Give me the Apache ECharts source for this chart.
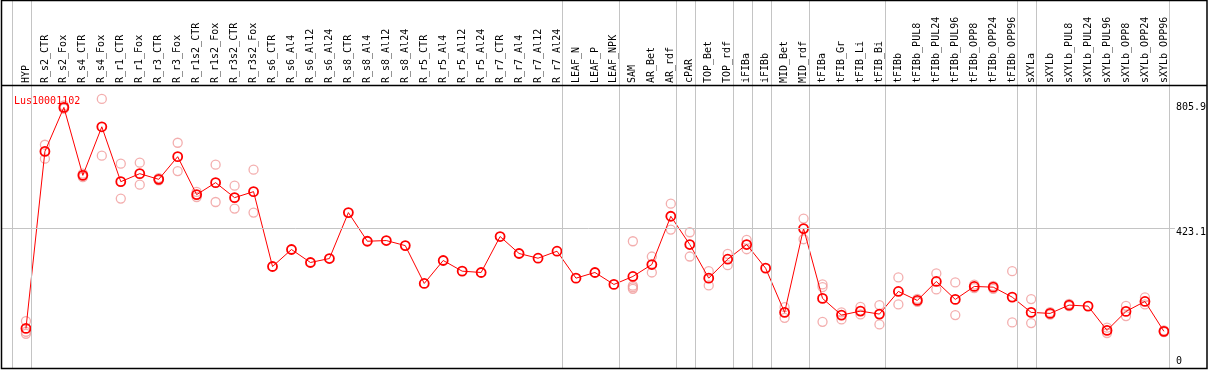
<!DOCTYPE html>
<html>
<head>
<meta charset="utf-8">
<script src="https://cdn.jsdelivr.net/npm/echarts@6/dist/echarts.min.js"></script>
<style>
html,body{margin:0;padding:0;background:#fff;}
#chart{width:1209px;height:370px;}
</style>
</head>
<body>
<div id="chart"></div>
<script>
const categories = ["HYP","R_s2_CTR","R_s2_Fox","R_s4_CTR","R_s4_Fox","R_r1_CTR","R_r1_Fox","R_r3_CTR","R_r3_Fox","R_r1s2_CTR","R_r1s2_Fox","R_r3s2_CTR","R_r3s2_Fox","R_s6_CTR","R_s6_Al4","R_s6_Al12","R_s6_Al24","R_s8_CTR","R_s8_Al4","R_s8_Al12","R_s8_Al24","R_r5_CTR","R_r5_Al4","R_r5_Al12","R_r5_Al24","R_r7_CTR","R_r7_Al4","R_r7_Al12","R_r7_Al24","LEAF_N","LEAF_P","LEAF_NPK","SAM","AR_Bet","AR_rdf","cPAR","TOP_Bet","TOP_rdf","iFIBa","iFIBb","MID_Bet","MID_rdf","tFIBa","tFIB_Gr","tFIB_Li","tFIB_Bi","tFIBb","tFIBb_PUL8","tFIBb_PUL24","tFIBb_PUL96","tFIBb_OPP8","tFIBb_OPP24","tFIBb_OPP96","sXYLa","sXYLb","sXYLb_PUL8","sXYLb_PUL24","sXYLb_PUL96","sXYLb_OPP8","sXYLb_OPP24","sXYLb_OPP96"];
const means = [105.6,666.6,805.9,590.6,744.6,570.6,596,578,649.8,529.6,567.5,520,539,301.7,355.6,314.5,327,472.6,381.8,384,368,248,320.8,287,282.8,396.7,343,328,350.2,264.8,282.8,244.9,270.2,308,461,371.4,264.8,324.9,371.4,296.4,156.3,422,200.6,147.7,160.4,150.9,222.7,194.2,254.3,197.4,238.5,236.3,204.7,156.3,153.1,179.4,176.2,99.3,159.4,191,96.2];
const replicates = [[128.7,94.9,88.6],[687.7,643.5],[812,803,802],[596,585],[833,653],[627.6,516.9],[630.8,561.2],[582,575],[694,604.3],[538,522],[624.5,506.2],[558,485.3],[608.6,472.6],[],[],[],[],[],[],[],[],[],[],[],[],[],[],[],[],[],[],[],[381.8,241,236,231],[333.4,282.8],[501,418.8],[410.3,333.4],[287,241.7],[341.7,305.9],[386,356.5],[],[173,139.2],[453.6,388.2],[245,236.6,126.5],[156.3,134.1],[174,150],[179.4,118.3],[267,181.6],[199,190],[279.7,229],[251.2,147.7],[244,233],[240,231],[287,124.6],[198.4,122.4],[157,149],[183,176],[],[108,91],[177.2,144.6],[203.7,181.6],[99,94]];
const groupEnds = [-1,0,28,31,34,35,37,38,39,41,45,52,53,60];
const yTickLabels = [0, 423.1, 805.9];
const midLine = 423.1;
const geneName = "Lus10001102";

const MONO = "'DejaVu Sans Mono','Liberation Mono',monospace";
const meanData = means.map((v,i)=>[i,v]);
const repData = [];
replicates.forEach((arr,i)=>arr.forEach(v=>repData.push([i,v])));
const sepLines = groupEnds.map(g=>({xAxis: g + 5.5/19}));

const chart = echarts.init(document.getElementById('chart'), null, {renderer:'canvas'});
chart.setOption({
  animation:false,
  backgroundColor:'#fff',
  title:{text:geneName,left:9,top:91,textStyle:{color:'#ff0000',fontSize:10,fontFamily:MONO,fontWeight:'normal'}},
  grid:{left:2,right:32,top:0,bottom:1,containLabel:false},
  xAxis:{
    type:'value',position:'top',offset:-85,
    min:-24/19,max:1151/19,
    axisLine:{show:false},axisTick:{show:false},splitLine:{show:false},
    axisLabel:{
      customValues:categories.map((c,i)=>i),
      rotate:90,margin:2,fontSize:10,fontFamily:MONO,color:'#000',
      formatter:(v)=>categories[Math.round(v)]
    }
  },
  yAxis:{
    type:'value',position:'right',min:-23.1,max:1146.4,
    axisLine:{show:false},axisTick:{show:false},splitLine:{show:false},
    axisLabel:{
      customValues:yTickLabels,margin:1,fontSize:10,fontFamily:MONO,color:'#000',
      formatter:(v)=> v===midLine ? '{m|'+v+'}' : String(v),
      rich:{m:{padding:[8,0,0,0],fontSize:10,fontFamily:MONO,color:'#000'}}
    }
  },
  series:[
    {
      type:'scatter',data:repData,symbol:'circle',symbolSize:9,z:2,
      itemStyle:{color:'rgba(255,255,255,0)',borderColor:'#f09a9a',borderWidth:1.3},
      markLine:{silent:true,symbol:'none',label:{show:false},
        lineStyle:{color:'#c4c4c4',type:'solid',width:1},
        data:[...sepLines,{yAxis:midLine}]}
    },
    {
      type:'line',data:meanData,symbol:'circle',symbolSize:9,showAllSymbol:true,z:3,
      lineStyle:{color:'#ff0000',width:1},
      itemStyle:{color:'rgba(255,255,255,0)',borderColor:'#ff0000',borderWidth:1.8}
    }
  ],
  graphic:[
    {type:'rect',shape:{x:1.5,y:0.5,width:1205.5,height:368},style:{fill:null,stroke:'#000',lineWidth:1.5},z:100},
    {type:'line',shape:{x1:1,y1:85.5,x2:1207,y2:85.5},style:{stroke:'#000',lineWidth:1.5},z:100}
  ]
});
</script>
</body>
</html>
